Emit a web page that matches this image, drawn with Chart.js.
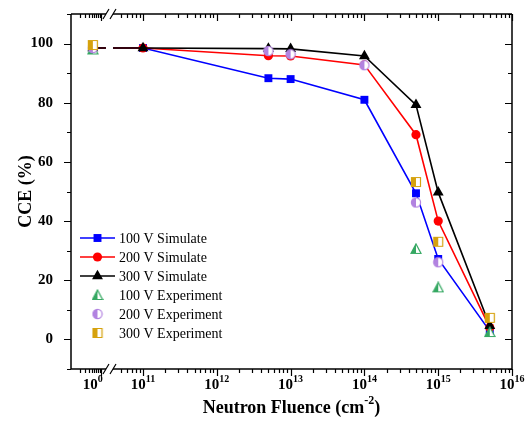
<!DOCTYPE html>
<html>
<head>
<meta charset="utf-8">
<script src="https://cdn.jsdelivr.net/npm/chart.js@4.4.0/dist/chart.umd.min.js"></script>
<style>
  html, body { margin: 0; padding: 0; background: #fff; }
  #wrap { width: 532px; height: 428px; }
</style>
</head>
<body>
<div id="wrap"><canvas id="chart"></canvas></div>
<script>
// fluence (cm^-2) of every measured/simulated point
const fluences = [1, 1e11, 5e12, 1e13, 1e14, 5e14, 1e15, 5e15];
const sim100 = [98.5, 98.5, 88.3, 88.0, 81.0, 49.4, 27.2, 2.8];
const sim200 = [98.5, 98.5, 95.9, 95.8, 92.8, 69.2, 40.0, 4.0];
const sim300 = [98.5, 98.5, 98.3, 98.2, 95.8, 79.3, 49.7, 4.6];
const exp100 = [98.0, null, null, null, null, 30.6, 17.6, 2.5];
const exp200 = [98.5, null, 97.5, 96.4, 92.7, 46.3, 26.1, null];
const exp300 = [99.5, null, null, null, null, 53.2, 33.0, 7.3];
const xTickExponents = [0, 11, 12, 13, 14, 15, 16];
const yTickLabels = [0, 20, 40, 60, 80, 100];

// broken axis: 10^0 sits left of the break, the rest is log10
const X_MIN = 10.024, X_MAX = 16;
const BREAK_X = 10.32;
const GAP = [10.498, 10.593];
const xPos = f => f < 1e11 ? BREAK_X : Math.log10(f);

const SERIF = '"Liberation Serif", "Times New Roman", serif';
const GREEN = '#35a862', PURPLE = '#b283e0', ORANGE = '#d6a20e';

function halfMarker(shape, color) {
    const c = document.createElement('canvas');
    c.width = 12; c.height = 12;
    const g = c.getContext('2d');
    const path = () => {
        g.beginPath();
        if (shape === 'tri') { g.moveTo(6, 1); g.lineTo(11, 10.5); g.lineTo(1, 10.5); g.closePath(); }
        else if (shape === 'circ') { g.arc(6, 6, 4.6, 0, Math.PI * 2); }
        else { g.rect(1.5, 1.5, 9, 9); }
    };
    path(); g.fillStyle = '#fff'; g.fill();
    g.save(); g.beginPath(); g.rect(0, 0, 6, 12); g.clip();
    path(); g.fillStyle = color; g.fill(); g.restore();
    path(); g.strokeStyle = color; g.lineWidth = 1.2; g.stroke();
    return c;
}

const toPoints = vals => fluences.map((f, i) => ({ x: xPos(f), y: vals[i] })).filter(p => p.y !== null);

const simSet = (label, vals, color, style, radius, order) => ({
    label, data: toPoints(vals), borderColor: color, backgroundColor: color,
    borderWidth: 1.6, pointStyle: style, pointRadius: radius, pointBorderWidth: 0,
    pointBackgroundColor: color, showLine: true, tension: 0, order
});
const expSet = (label, vals, img, order) => ({
    label, data: toPoints(vals), pointStyle: img, pointRadius: 6, showLine: false, order
});

const datasets = [
    simSet('100 V Simulate', sim100, '#0000ff', 'rect', 5.6, 5),
    simSet('200 V Simulate', sim200, '#ff0000', 'circle', 4.6, 4),
    simSet('300 V Simulate', sim300, '#000000', 'triangle', 6.3, 3),
    expSet('100 V Experiment', exp100, halfMarker('tri', GREEN), 2),
    expSet('200 V Experiment', exp200, halfMarker('circ', PURPLE), 1),
    expSet('300 V Experiment', exp300, halfMarker('sq', ORANGE), 0)
];

function tickSets() {
    const major = [10.43];
    const minor = [];
    for (let k = 2; k <= 9; k++) minor.push(X_MIN + Math.log10(k) * (10.43 - X_MIN));
    for (let k = 5; k <= 9; k++) minor.push(10 + Math.log10(k));
    for (let n = 11; n <= 16; n++) {
        major.push(n);
        if (n < 16) for (let k = 2; k <= 9; k++) minor.push(n + Math.log10(k));
    }
    return { major, minor };
}

const axisDecor = {
    id: 'axisDecor',
    afterDatasetsDraw(chart) {
        const { ctx, chartArea: a, scales: { x, y } } = chart;
        const gl = x.getPixelForValue(GAP[0]), gr = x.getPixelForValue(GAP[1]);
        ctx.save();
        ctx.fillStyle = '#fff';
        ctx.fillRect(gl, a.top + 1, gr - gl, a.bottom - a.top - 2);

        ctx.strokeStyle = '#000';
        ctx.lineWidth = 1.5;
        ctx.beginPath();
        ctx.moveTo(a.left, a.top); ctx.lineTo(a.left, a.bottom);
        ctx.moveTo(a.right, a.top); ctx.lineTo(a.right, a.bottom);
        [a.top, a.bottom].forEach(yy => {
            ctx.moveTo(a.left, yy); ctx.lineTo(gl, yy);
            ctx.moveTo(gr, yy); ctx.lineTo(a.right, yy);
        });
        ctx.stroke();

        // break marks
        ctx.lineWidth = 1.2;
        ctx.beginPath();
        [a.top, a.bottom].forEach(yy => {
            [gl, gr].forEach(xx => { ctx.moveTo(xx - 3, yy + 5); ctx.lineTo(xx + 3, yy - 5); });
        });
        ctx.stroke();

        // ticks
        const { major, minor } = tickSets();
        ctx.lineWidth = 1.2;
        ctx.beginPath();
        const xt = (list, len) => list.forEach(v => {
            const px = Math.round(x.getPixelForValue(v)) + 0.5;
            ctx.moveTo(px, a.bottom); ctx.lineTo(px, a.bottom + len);
            ctx.moveTo(px, a.top); ctx.lineTo(px, a.top + len);
        });
        xt(major, 7); xt(minor, 4);
        for (let v = -10; v <= 110; v += 10) {
            const py = Math.round(y.getPixelForValue(v)) + 0.5;
            const len = (v % 20 === 0) ? 7 : 4;
            ctx.moveTo(a.left, py); ctx.lineTo(a.left - len, py);
            ctx.moveTo(a.right, py); ctx.lineTo(a.right - len, py);
        }
        ctx.stroke();

        // x tick labels with superscripts
        ctx.fillStyle = '#000';
        ctx.textBaseline = 'alphabetic';
        ctx.textAlign = 'left';
        xTickExponents.forEach(e => {
            const px = x.getPixelForValue(e === 0 ? BREAK_X : e);
            ctx.font = 'bold 15px ' + SERIF;
            const w1 = ctx.measureText('10').width;
            ctx.font = 'bold 10px ' + SERIF;
            const w2 = ctx.measureText(String(e)).width;
            const x0 = px - (w1 + w2) / 2;
            ctx.font = 'bold 15px ' + SERIF;
            ctx.fillText('10', x0, 389);
            ctx.font = 'bold 10px ' + SERIF;
            ctx.fillText(String(e), x0 + w1, 382);
        });

        // x title
        const t1 = 'Neutron Fluence (cm', t2 = '-2', t3 = ')';
        ctx.font = 'bold 18px ' + SERIF;
        const w1 = ctx.measureText(t1).width, w3 = ctx.measureText(t3).width;
        ctx.font = 'bold 12px ' + SERIF;
        const w2 = ctx.measureText(t2).width;
        let tx = (a.left + a.right) / 2 - (w1 + w2 + w3) / 2;
        ctx.font = 'bold 18px ' + SERIF;
        ctx.fillText(t1, tx, 413);
        ctx.font = 'bold 12px ' + SERIF;
        ctx.fillText(t2, tx + w1, 404);
        ctx.font = 'bold 18px ' + SERIF;
        ctx.fillText(t3, tx + w1 + w2, 413);

        // legend
        const rows = [238, 257, 276, 295, 314, 333];
        ctx.font = '14px ' + SERIF;
        ctx.textBaseline = 'middle';
        chart.data.datasets.forEach((ds, i) => {
            const yy = rows[i];
            if (ds.showLine) {
                ctx.strokeStyle = ds.borderColor;
                ctx.lineWidth = 1.6;
                ctx.beginPath(); ctx.moveTo(80, yy); ctx.lineTo(115, yy); ctx.stroke();
                ctx.fillStyle = ds.borderColor;
                Chart.helpers.drawPoint(ctx, { pointStyle: ds.pointStyle, radius: ds.pointRadius, rotation: 0, borderWidth: 0 }, 97.5, yy);
            } else {
                ctx.drawImage(ds.pointStyle, 97.5 - 6, yy - 6);
            }
            ctx.fillStyle = '#000';
            ctx.fillText(ds.label, 119, yy + 1);
        });
        ctx.restore();
    }
};

new Chart(document.getElementById('chart'), {
    type: 'scatter',
    data: { datasets },
    options: {
        responsive: true,
        maintainAspectRatio: false,
        animation: false,
        layout: { padding: { left: 0, right: 20, top: 14, bottom: 0 } },
        plugins: { legend: { display: false }, tooltip: { enabled: false } },
        scales: {
            x: {
                type: 'linear', min: X_MIN, max: X_MAX,
                ticks: { display: false },
                grid: { display: false },
                border: { display: false },
                afterFit: s => { s.height = 59; s.paddingLeft = 0; s.paddingRight = 0; }
            },
            y: {
                min: -10, max: 110,
                ticks: {
                    stepSize: 10, autoSkip: false, color: '#000', padding: 10,
                    font: { family: SERIF, size: 15, weight: 'bold' },
                    callback: v => yTickLabels.includes(v) ? v : ''
                },
                grid: { display: false },
                border: { display: false },
                title: {
                    display: true, text: 'CCE (%)', color: '#000',
                    font: { family: SERIF, size: 18, weight: 'bold' },
                    padding: { top: 16, bottom: 0 }
                },
                afterFit: s => { s.width = 71; s.paddingTop = 0; s.paddingBottom = 0; }
            }
        }
    },
    plugins: [axisDecor]
});
</script>
</body>
</html>
